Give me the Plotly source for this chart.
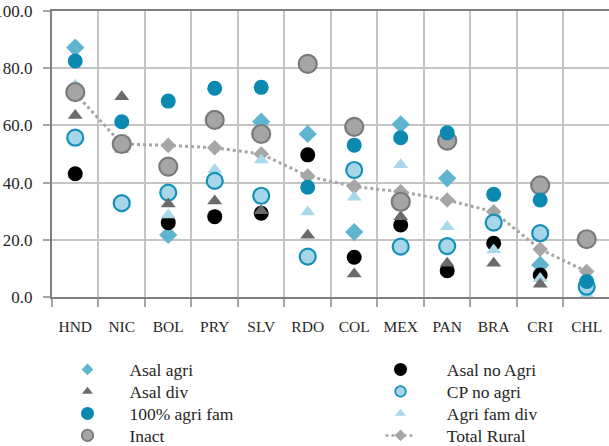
import plotly.graph_objects as go

categories = ["HND", "NIC", "BOL", "PRY", "SLV", "RDO", "COL", "MEX", "PAN", "BRA", "CRI", "CHL"]

asal_agri     = [87.2, None, 21.7, None, 61.3, 57.0, 22.7, 60.4, 41.5, None, 11.2, None]
asal_no_agri  = [43.1, None, 26.0, 28.1, 29.3, 49.7, 13.9, 25.2, 9.2, 18.8, 7.7, None]
asal_div      = [63.5, 70.0, 32.5, 33.6, 30.2, 21.6, 8.0, 28.1, 11.8, 11.8, 4.5, None]
cp_no_agri    = [55.7, 32.8, 36.5, 40.6, 35.4, 14.1, 44.4, 17.6, 17.8, 26.0, 22.3, 3.6]
agri_fam_100  = [82.5, 61.3, 68.5, 73.0, 73.3, 38.4, 53.1, 55.7, 57.4, 35.9, 33.9, 5.4]
agri_fam_div  = [74.0, 51.5, 28.7, 44.5, 47.9, 29.7, 34.9, 46.2, 24.6, 16.4, 6.5, 1.0]
inact         = [71.6, 53.5, 45.6, 61.9, 57.0, 81.5, 59.5, 33.3, 54.7, None, 39.0, 20.2]
total_rural   = [71.2, 53.5, 53.0, 52.2, 50.0, 42.3, 38.6, 36.8, 33.9, 29.8, 16.7, 8.9]

FONT = "Liberation Serif, Times New Roman, serif"
TXT = "#262626"
W, H = 609, 446

# legend slots: (legend id, symbol centre x px, row centre y px, nbsp padding, legend marker size)
ROWS = [369, 391, 413, 435]
COL1_X, COL2_X = 87, 400
slots = {
    "Asal agri":     ("legend",  COL1_X, ROWS[0], 5, 9),
    "Asal div":      ("legend2", COL1_X, ROWS[1], 5, 9.5),
    "100% agri fam": ("legend3", COL1_X, ROWS[2], 5, 13),
    "Inact":         ("legend4", COL1_X, ROWS[3], 5, 11.5),
    "Asal no Agri":  ("legend5", COL2_X, ROWS[0], 6, 13),
    "CP no agri":    ("legend6", COL2_X, ROWS[1], 6, 10.5),
    "Agri fam div":  ("legend7", COL2_X, ROWS[2], 6, 9.5),
    "Total Rural":   ("legend8", COL2_X, ROWS[3], 6, 9),
}

fig = go.Figure()
styles = {}

def add(name, y, mode, marker, line=None):
    styles[name] = (mode, marker, line)
    kw = dict(line=line) if line else {}
    fig.add_trace(go.Scatter(x=categories, y=y, name=name, mode=mode,
                             marker=marker, showlegend=False, **kw))

# draw order (later on top)
add("Total Rural", total_rural, "lines+markers",
    dict(symbol="diamond", size=12, color="#a6a6a6"),
    dict(color="#a6a6a6", width=3, dash="dot"))
add("Asal agri", asal_agri, "markers",
    dict(symbol="diamond", size=14, color="#5fb5d0"))
add("Asal no Agri", asal_no_agri, "markers",
    dict(symbol="circle", size=15, color="#000000"))
add("Agri fam div", agri_fam_div, "markers",
    dict(symbol="triangle-up", size=13, color="#a8d8ea"))
add("CP no agri", cp_no_agri, "markers",
    dict(symbol="circle", size=16, color="#a6d6e7",
         line=dict(color="#1690b8", width=2.2)))
add("Asal div", asal_div, "markers",
    dict(symbol="triangle-up", size=13, color="#6b6b6b"))
add("Inact", inact, "markers",
    dict(symbol="circle", size=18, color="#a5a5a5",
         line=dict(color="#7a7a7a", width=2.2)))
add("100% agri fam", agri_fam_100, "markers",
    dict(symbol="circle", size=15, color="#0b89b0"))

# legend entries (no data drawn), with smaller legend symbols
for name, (lg, sx, ry, pad, msize) in slots.items():
    mode, marker, line = styles[name]
    m = dict(marker)
    m["size"] = msize
    if "line" in m:
        m["line"] = dict(m["line"], width=1.8)
    kw = dict(line=dict(line, width=2.5)) if line else {}
    fig.add_trace(go.Scatter(x=[None], y=[None], name="\u00a0" * pad + name,
                             mode=mode, marker=m, legend=lg, showlegend=True,
                             hoverinfo="skip", **kw))

SYM_OFF = 19.5   # symbol centre offset from legend left edge
TOP_OFF = 17.5   # row centre offset from legend top edge

legends = {}
for name, (lg, sx, ry, pad, msize) in slots.items():
    legends[lg] = dict(
        xref="container", yref="container", xanchor="left", yanchor="top",
        x=(sx - SYM_OFF) / W, y=(H - (ry - TOP_OFF)) / H,
        orientation="v", bgcolor="rgba(0,0,0,0)", itemsizing="trace",
        font=dict(family=FONT, size=17.5, color=TXT), tracegroupgap=0,
    )

fig.update_layout(
    width=W, height=H,
    margin=dict(l=52, r=0, t=11, b=149, autoexpand=False),
    paper_bgcolor="white", plot_bgcolor="white",
    showlegend=True,
    **legends,
    xaxis=dict(
        type="category", categoryorder="array", categoryarray=categories,
        range=[-0.5, 11.48], tickson="boundaries", automargin=False,
        ticks="outside", ticklen=8, tickwidth=1.5, tickcolor="#a6a6a6",
        showgrid=True, gridcolor="#c4c4c4", gridwidth=1.6,
        showline=True, linecolor="#808080", linewidth=2, mirror=True,
        tickfont=dict(family=FONT, size=15.5, color=TXT), tickangle=0,
        ticklabelstandoff=14,
    ),
    yaxis=dict(
        range=[0, 100], dtick=20, tick0=0, tickformat=".1f", automargin=False,
        ticks="outside", ticklen=7, tickwidth=1.5, tickcolor="#a6a6a6",
        showgrid=True, gridcolor="#c4c4c4", gridwidth=1.6, zeroline=False,
        showline=True, linecolor="#808080", linewidth=2,
        tickfont=dict(family=FONT, size=17, color=TXT),
        ticklabelstandoff=7,
    ),
)

fig.write_html("out.html", config={"displayModeBar": False},
               post_script="document.body.style.margin='0';document.body.style.overflow='hidden';")
